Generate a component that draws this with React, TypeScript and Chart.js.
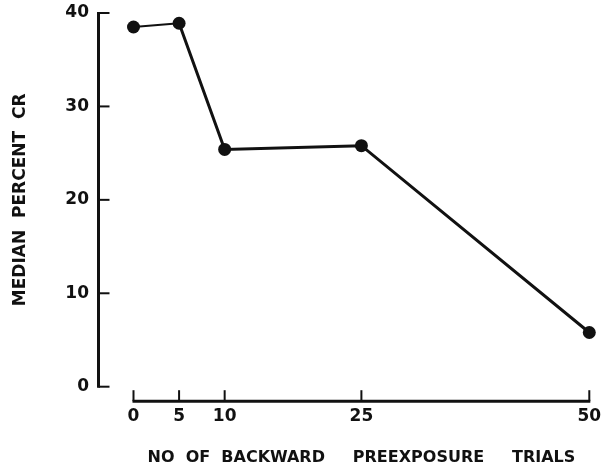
import React, { useEffect, useRef } from "react";
import { Chart, registerables } from "chart.js";

Chart.register(...registerables);

const trials = [0, 5, 10, 25, 50];
const medianPercentCR = [38.5, 38.9, 25.4, 25.8, 5.8];
const xTickValues = [0, 5, 10, 25, 50];
const yTickValues = [0, 10, 20, 30, 40];
const xTitle = "NO  OF  BACKWARD     PREEXPOSURE     TRIALS";
const yTitle = "MEDIAN  PERCENT  CR";

const INK = "#111111";
const FONT = "'DejaVu Sans', 'Liberation Sans', sans-serif";

const axesPlugin = {
  id: "offsetAxes",
  beforeDatasetsDraw(chart: any) {
    const { ctx, chartArea, scales } = chart;
    const xs = scales.x;
    const ys = scales.y;
    ctx.save();
    ctx.strokeStyle = INK;
    ctx.lineCap = "butt";
    // y axis, offset to the left of the plotting area
    const ax = chartArea.left - 35;
    const y0 = ys.getPixelForValue(yTickValues[0]);
    const y1 = ys.getPixelForValue(yTickValues[yTickValues.length - 1]);
    ctx.lineWidth = 3;
    ctx.beginPath();
    ctx.moveTo(ax, y0 + 1);
    ctx.lineTo(ax, y1 - 1);
    ctx.stroke();
    ctx.lineWidth = 2;
    for (const v of yTickValues) {
      const py = ys.getPixelForValue(v);
      ctx.beginPath();
      ctx.moveTo(ax, py);
      ctx.lineTo(ax + 11, py);
      ctx.stroke();
    }
    // x axis, offset below the plotting area
    const ay = chartArea.bottom + 14.5;
    const x0 = xs.getPixelForValue(xTickValues[0]);
    const x1 = xs.getPixelForValue(xTickValues[xTickValues.length - 1]);
    ctx.lineWidth = 3;
    ctx.beginPath();
    ctx.moveTo(x0 - 1, ay);
    ctx.lineTo(x1 + 1, ay);
    ctx.stroke();
    ctx.lineWidth = 2;
    for (const v of xTickValues) {
      const px = xs.getPixelForValue(v);
      ctx.beginPath();
      ctx.moveTo(px, ay);
      ctx.lineTo(px, ay - 11);
      ctx.stroke();
    }
    ctx.restore();
  },
};

export default function App() {
  const ref = useRef<HTMLCanvasElement | null>(null);
  useEffect(() => {
    const canvas = ref.current;
    if (!canvas) return;
    const chart = new Chart(canvas, {
      type: "line",
      data: {
        datasets: [
          {
            data: trials.map((t, i) => ({ x: t, y: medianPercentCR[i] })),
            borderColor: INK,
            backgroundColor: INK,
            borderWidth: 3,
            pointRadius: 6.5,
            pointBackgroundColor: INK,
            pointBorderColor: INK,
            pointBorderWidth: 0,
            tension: 0,
            clip: false,
            segment: {
              borderWidth: (c: any) => (c.p0DataIndex === 0 ? 2 : 3),
            },
          },
        ],
      },
      options: {
        animation: false,
        responsive: false,
        maintainAspectRatio: false,
        devicePixelRatio: 1,
        layout: { padding: { top: 13, right: 23.7, bottom: 0, left: 0 } },
        plugins: {
          legend: { display: false },
          tooltip: { enabled: false },
        },
        scales: {
          x: {
            type: "linear",
            min: 0,
            max: 50,
            afterBuildTicks: (s: any) => {
              s.ticks = xTickValues.map((v) => ({ value: v }));
            },
            afterFit: (s: any) => {
              s.height = 468 - 386.7;
              s.paddingLeft = 0;
              s.paddingRight = 0;
            },
            grid: { display: false, drawTicks: false },
            border: { display: false },
            ticks: {
              color: INK,
              padding: 19.6,
              autoSkip: false,
              maxRotation: 0,
              font: { family: FONT, size: 17, weight: "bold" },
            },
            title: {
              display: true,
              text: xTitle,
              color: INK,
              padding: { top: 0, bottom: 1 },
              font: { family: FONT, size: 16, weight: "bold" },
            },
          },
          y: {
            type: "linear",
            min: 0,
            max: 40,
            afterBuildTicks: (s: any) => {
              s.ticks = yTickValues.map((v) => ({ value: v }));
            },
            afterFit: (s: any) => {
              s.width = 133.5;
              s.paddingTop = 0;
              s.paddingBottom = 0;
            },
            grid: { display: false, drawTicks: false },
            border: { display: false },
            ticks: {
              color: INK,
              padding: 44.5,
              font: { family: FONT, size: 17, weight: "bold" },
            },
            title: {
              display: true,
              text: yTitle,
              color: INK,
              padding: { top: 10.8, bottom: 0 },
              font: { family: FONT, size: 17, weight: "bold" },
            },
          },
        },
      },
      plugins: [axesPlugin],
    } as any);
    return () => chart.destroy();
  }, []);
  return (
    <div
      style={{
        position: "fixed",
        left: 0,
        top: 0,
        width: 613,
        height: 468,
        background: "#ffffff",
      }}
    >
      <canvas ref={ref} width={613} height={468} style={{ width: 613, height: 468 }} />
    </div>
  );
}
